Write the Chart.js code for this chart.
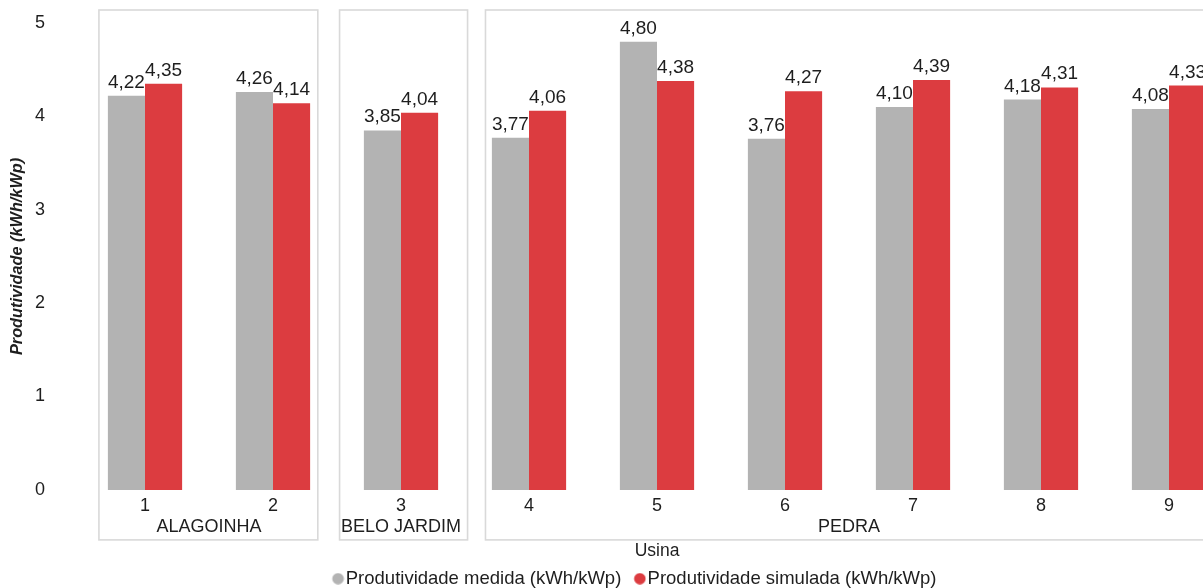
<!DOCTYPE html>
<html>
<head>
<meta charset="utf-8">
<script src="https://cdn.jsdelivr.net/npm/chart.js@4.4.1/dist/chart.umd.min.js"></script>
<style>
  html, body { margin: 0; padding: 0; background: #fff; overflow: hidden; }
  #wrap { width: 1265px; height: 588px; }
</style>
</head>
<body>
<div id="wrap"><canvas id="chart" width="1265" height="588"></canvas></div>
<script>
/* usinas e produtividade diária */
const usinas = ["1", "2", "3", "4", "5", "6", "7", "8", "9"];
const medida = [4.22, 4.26, 3.85, 3.77, 4.80, 3.76, 4.10, 4.18, 4.08];
const simulada = [4.35, 4.14, 4.04, 4.06, 4.38, 4.27, 4.39, 4.31, 4.33];
const yTicks = [0, 1, 2, 3, 4, 5];

// cidades: nome + primeira/última usina do grupo
const cidades = ["ALAGOINHA", "BELO JARDIM", "PEDRA"];
const cidadeInicio = [0, 2, 3];
const cidadeFim = [1, 2, 8];

const FONT = "'Liberation Sans', Arial, sans-serif";
const TEXT = "#1e1e1e";
const CINZA = "#b3b3b3";
const VERMELHO = "#dc3c40";

// caixas em volta de cada cidade (bordas em unidades de categoria)
const boxEdges = [[-0.36, 0.35], [-0.48, 0.52], [-0.34, 0.9]];

// bolinha da legenda, deslocada para a direita para ficar junto do texto
function dot(color) {
  const c = document.createElement("canvas");
  c.width = 24;
  c.height = 12;
  const g = c.getContext("2d");
  g.fillStyle = color;
  g.beginPath();
  g.arc(17.5, 6, 5.8, 0, Math.PI * 2);
  g.fill();
  return c;
}

const groupBoxes = {
  id: "groupBoxes",
  beforeDatasetsDraw(chart) {
    const { ctx, scales: { x }, chartArea } = chart;
    const step = x.getPixelForValue(1) - x.getPixelForValue(0);
    ctx.save();
    ctx.strokeStyle = "#d9d9d9";
    ctx.lineWidth = 1.6;
    ctx.font = "18px " + FONT;
    ctx.fillStyle = TEXT;
    ctx.textAlign = "center";
    ctx.textBaseline = "middle";
    cidades.forEach((nome, i) => {
      const l = x.getPixelForValue(cidadeInicio[i]) + boxEdges[i][0] * step;
      const r = x.getPixelForValue(cidadeFim[i]) + boxEdges[i][1] * step;
      const top = chartArea.top - 13;
      const bottom = chartArea.bottom + 50;
      ctx.strokeRect(l, top, r - l, bottom - top);
      const cx = (x.getPixelForValue(cidadeInicio[i]) + x.getPixelForValue(cidadeFim[i])) / 2;
      ctx.fillText(nome, cx, chartArea.bottom + 37);
    });
    ctx.restore();
  }
};

const valueLabels = {
  id: "valueLabels",
  afterDatasetsDraw(chart) {
    const { ctx } = chart;
    ctx.save();
    ctx.font = "19px " + FONT;
    ctx.fillStyle = TEXT;
    ctx.textAlign = "center";
    ctx.textBaseline = "alphabetic";
    chart.data.datasets.forEach((ds, di) => {
      chart.getDatasetMeta(di).data.forEach((bar, i) => {
        ctx.fillText(ds.data[i].toFixed(2).replace(".", ","), bar.x, bar.y - 8);
      });
    });
    ctx.restore();
  }
};

// legenda centrada na largura total do canvas e colada ao título do eixo
const legendShift = {
  id: "legendShift",
  afterLayout(chart) {
    const lg = chart.legend;
    lg.left += 16;
    lg.right += 16;
    lg.top -= 8;
    lg.bottom -= 8;
  }
};

new Chart(document.getElementById("chart"), {
  type: "bar",
  data: {
    labels: usinas,
    datasets: [
      { label: "Produtividade medida (kWh/kWp)", data: medida, backgroundColor: CINZA },
      { label: "Produtividade simulada (kWh/kWp)", data: simulada, backgroundColor: VERMELHO }
    ]
  },
  options: {
    responsive: false,
    animation: false,
    layout: { padding: { top: 23, right: 32, bottom: -18, left: 0 } },
    datasets: { bar: { categoryPercentage: 0.58, barPercentage: 1.0 } },
    plugins: {
      tooltip: { enabled: false },
      legend: {
        position: "bottom",
        labels: {
          usePointStyle: true,
          boxWidth: 8,
          boxHeight: 8,
          padding: 9,
          color: TEXT,
          font: { family: FONT, size: 18.5 },
          generateLabels(chart) {
            const items = Chart.defaults.plugins.legend.labels.generateLabels(chart);
            items.forEach(it => { it.pointStyle = dot(it.fillStyle); });
            return items;
          }
        }
      }
    },
    scales: {
      x: {
        grid: { display: false, drawTicks: false },
        border: { display: false },
        ticks: { color: TEXT, font: { family: FONT, size: 18 }, padding: 5 },
        title: {
          display: true,
          text: "Usina",
          color: TEXT,
          font: { family: FONT, size: 17.5 },
          padding: { top: 19, bottom: 7 }
        }
      },
      y: {
        min: 0,
        max: 5,
        grid: { display: false, drawTicks: false },
        border: { display: false },
        afterFit(scale) {
          scale.width = 81;
          scale.paddingTop = 0;
          scale.paddingBottom = 0;
        },
        afterBuildTicks(scale) { scale.ticks = yTicks.map(v => ({ value: v })); },
        ticks: { color: TEXT, font: { family: FONT, size: 18 }, padding: 36 },
        title: {
          display: true,
          text: "Produtividade (kWh/kWp)",
          color: TEXT,
          font: { family: FONT, size: 16.3, weight: "bold", style: "italic" },
          padding: { top: 8, bottom: 0 }
        }
      }
    }
  },
  plugins: [groupBoxes, valueLabels, legendShift]
});
</script>
</body>
</html>
